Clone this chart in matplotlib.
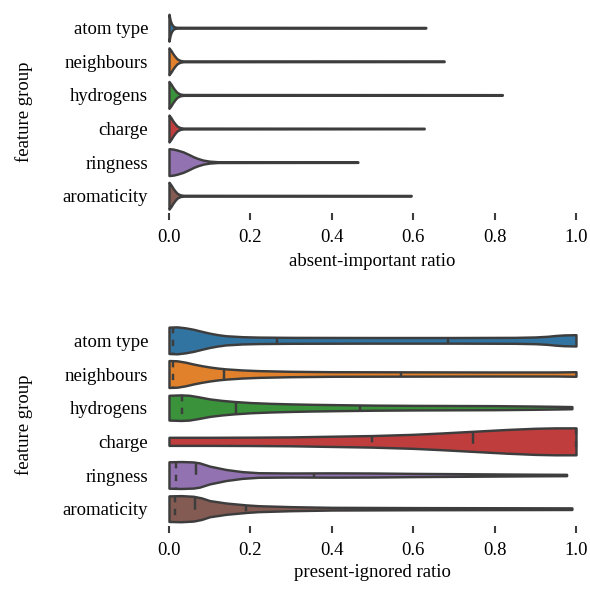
import numpy as np
import matplotlib
matplotlib.use('Agg')
import matplotlib.pyplot as plt

plt.rcParams['font.family'] = ['Liberation Serif', 'DejaVu Serif']

groups = ['atom type', 'neighbours', 'hydrogens', 'charge', 'ringness', 'aromaticity']
colors = ['#3274a1', '#e1812c', '#3a923a', '#c03d3e', '#9372b2', '#845b53']
edge = '#3d3d3d'

# absent-important ratio: density outline (x, relative half-width)
absent_x = [
    [0, 0.003, 0.006, 0.01, 0.015, 0.02, 0.631],
    [0, 0.005, 0.01, 0.015, 0.02, 0.027, 0.035, 0.676],
    [0, 0.005, 0.01, 0.015, 0.02, 0.027, 0.035, 0.819],
    [0, 0.005, 0.01, 0.015, 0.02, 0.027, 0.035, 0.627],
    [0, 0.01, 0.02, 0.035, 0.05, 0.06, 0.07, 0.084, 0.1, 0.12, 0.464],
    [0, 0.005, 0.01, 0.015, 0.02, 0.027, 0.035, 0.595],
]
absent_w = [
    [1.0, 0.55, 0.3, 0.12, 0.05, 0.03, 0.02],
    [1.0, 0.8, 0.55, 0.35, 0.18, 0.07, 0.03, 0.02],
    [1.0, 0.8, 0.55, 0.35, 0.18, 0.07, 0.03, 0.02],
    [1.0, 0.8, 0.55, 0.35, 0.18, 0.07, 0.03, 0.02],
    [1.0, 0.97, 0.9, 0.76, 0.55, 0.4, 0.28, 0.15, 0.07, 0.03, 0.02],
    [1.0, 0.8, 0.55, 0.35, 0.18, 0.07, 0.03, 0.02],
]
absent_q = [[], [], [], [], [], []]

# present-ignored ratio
present_x = [
    [0, 0.02, 0.04, 0.06, 0.08, 0.10, 0.12, 0.14, 0.18, 0.22, 0.3, 0.5, 0.7, 0.85, 0.9, 0.93, 0.95, 0.97, 1.0],
    [0, 0.02, 0.04, 0.06, 0.08, 0.10, 0.12, 0.14, 0.18, 0.22, 0.3, 0.4, 0.6, 0.8, 0.95, 1.0],
    [0, 0.03, 0.05, 0.07, 0.10, 0.13, 0.16, 0.2, 0.25, 0.3, 0.35, 0.42, 0.5, 0.6, 0.8, 0.9, 0.95, 0.99],
    [0, 0.1, 0.2, 0.3, 0.4, 0.5, 0.6, 0.67, 0.75, 0.83, 0.9, 0.95, 1.0],
    [0, 0.03, 0.06, 0.075, 0.1, 0.14, 0.18, 0.22, 0.3, 0.4, 0.5, 0.6, 0.7, 0.8, 0.9, 0.977],
    [0, 0.03, 0.06, 0.08, 0.1, 0.14, 0.19, 0.22, 0.3, 0.4, 0.6, 0.8, 0.99],
]
present_w = [
    [0.98, 1.0, 0.93, 0.82, 0.67, 0.53, 0.42, 0.34, 0.27, 0.24, 0.22, 0.21, 0.21, 0.22, 0.25, 0.3, 0.36, 0.4, 0.42],
    [1.0, 0.98, 0.88, 0.74, 0.62, 0.52, 0.44, 0.38, 0.3, 0.25, 0.2, 0.17, 0.16, 0.15, 0.15, 0.17],
    [0.92, 0.95, 0.92, 0.82, 0.65, 0.54, 0.46, 0.38, 0.32, 0.28, 0.25, 0.22, 0.19, 0.17, 0.15, 0.12, 0.1, 0.08],
    [0.3, 0.3, 0.31, 0.33, 0.38, 0.43, 0.52, 0.62, 0.75, 0.88, 0.97, 1.0, 1.0],
    [0.98, 1.0, 0.97, 0.9, 0.66, 0.41, 0.25, 0.17, 0.15, 0.16, 0.15, 0.12, 0.1, 0.08, 0.06, 0.05],
    [0.95, 0.97, 0.92, 0.8, 0.6, 0.42, 0.28, 0.22, 0.15, 0.1, 0.08, 0.07, 0.06],
]
present_q = [
    [0.011, 0.266, 0.686],
    [0.011, 0.135, 0.569],
    [0.032, 0.165, 0.469],
    [0.499, 0.748, 1.0],
    [0.018, 0.067, 0.357],
    [0.016, 0.065, 0.19],
]

xticks = [0.0, 0.2, 0.4, 0.6, 0.8, 1.0]
half = 0.4  # violin width 0.8
lw = 1.75


def draw_violins(ax, xs, ws, qs):
    for i, (x, w, q) in enumerate(zip(xs, ws, qs)):
        x = np.array(x)
        hw = np.array(w) * half
        ax.fill_between(x, i - hw, i + hw, facecolor=colors[i], edgecolor=edge,
                        linewidth=lw, zorder=2)
        # inner quartile lines
        for k, qv in enumerate(q):
            h = np.interp(qv, x, hw)
            d = [lw * 3] * 2 if k == 1 else [lw * 1.5] * 2
            ax.plot([qv, qv], [i - h, i + h], color=edge, linewidth=lw,
                    dashes=d, zorder=3, solid_capstyle='butt')


def style(ax, xlabel, ylabel_y):
    ax.set_xlim(-0.01, 1.01)
    ax.set_ylim(5.5, -0.5)
    ax.set_yticks(range(len(groups)))
    ax.set_yticklabels(groups, fontsize=13.5)
    ax.set_xticks(xticks)
    ax.set_xticklabels(['%.1f' % t for t in xticks], fontsize=13.5)
    for s in ax.spines.values():
        s.set_visible(False)
    ax.tick_params(axis='y', length=0, pad=12)
    ax.tick_params(axis='x', length=5, width=1.5, color=edge, pad=7)
    ax.set_xlabel(xlabel, fontsize=13.5)
    ax.xaxis.set_label_coords(0.5, ylabel_y)
    ax.set_ylabel('feature group', fontsize=13.5)
    ax.yaxis.set_label_coords(-0.318, 0.5)


fig = plt.figure(figsize=(5.9, 5.9), dpi=100)
ax1 = fig.add_axes([0.2795, 0.6398, 0.7036, 0.3417])
ax2 = fig.add_axes([0.2795, 0.1093, 0.7036, 0.3424])

draw_violins(ax1, absent_x, absent_w, absent_q)
style(ax1, 'absent-important ratio', -0.2)
draw_violins(ax2, present_x, present_w, present_q)
style(ax2, 'present-ignored ratio', -0.19)

fig.savefig('out.png', dpi=100)
